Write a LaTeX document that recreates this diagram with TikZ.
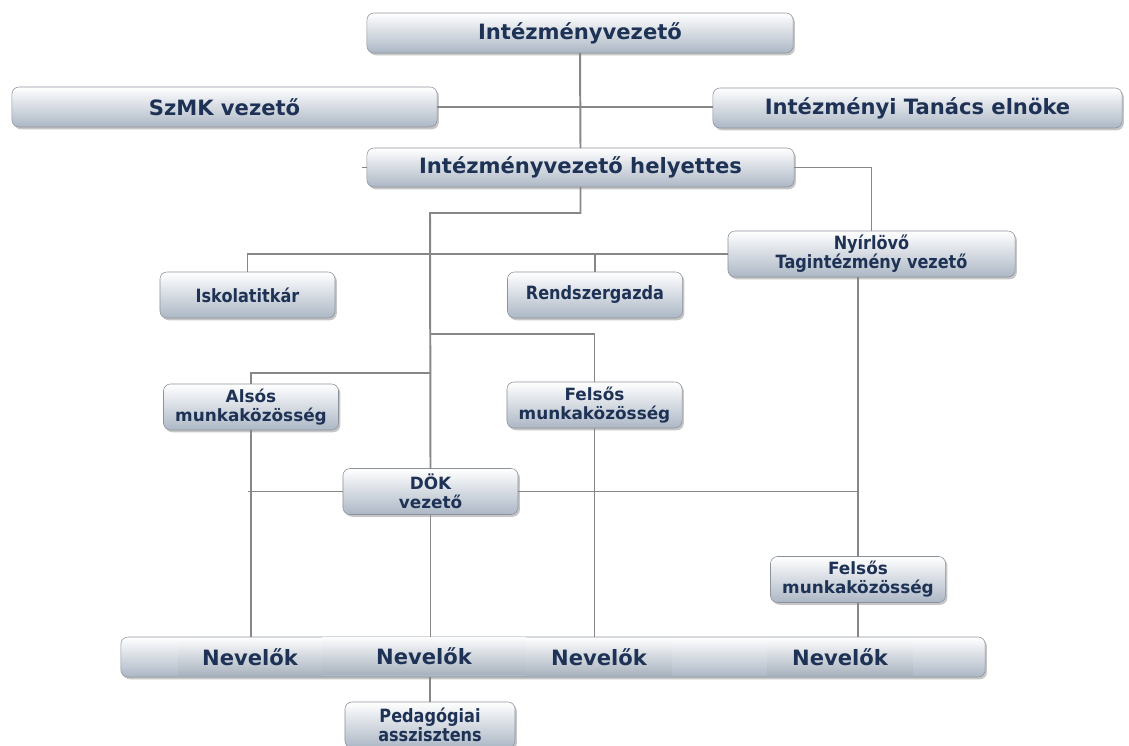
\documentclass[tikz,border=0pt]{standalone}
\usepackage{fontspec}
\setmainfont{DejaVu Sans}
\newfontfamily\narrowsf[FakeStretch=0.88]{DejaVu Sans}
\usetikzlibrary{shadows}
\definecolor{navy}{RGB}{30,50,85}
\definecolor{boxbot}{RGB}{172,183,197}
\definecolor{boxline}{RGB}{140,146,154}
\definecolor{linegray}{RGB}{135,135,135}

\begin{document}
\begin{tikzpicture}[x=0.025cm,y=-0.025cm,
  box/.style={draw=boxline, rounded corners=5pt, top color=white, bottom color=boxbot,
    inner sep=0pt, outer sep=0pt, align=center, text=navy,
    drop shadow={opacity=0.45, shadow xshift=1.3pt, shadow yshift=-1.6pt}},
  bigbox/.style={box, minimum height=1cm, font=\fontsize{15}{18}\selectfont\bfseries},
  smallbox/.style={box, minimum width=4.375cm, minimum height=1.15cm,
    font=\fontsize{12}{13.5}\selectfont\bfseries},
  narrowbox/.style={smallbox, font=\narrowsf\fontsize{13}{13.5}\selectfont\bfseries},
  nevbox/.style={top color=white!96!boxbot, bottom color=boxbot!90!gray,
    inner sep=0pt, minimum height=0.93cm, text=navy, font=\fontsize{15}{18}\selectfont\bfseries},
  wire/.style={draw=linegray, line width=1.4pt}]
\useasboundingbox (0,0) rectangle (1129,745);
\clip (0,0) rectangle (1129,745);

% vezetes
\node[bigbox, minimum width=10.65cm] (chief) at (580,33) {Intézményvezető};
\node[bigbox, minimum width=10.625cm] (szmk) at (224.5,107) {SzMK vezető};
\node[bigbox, minimum width=10.225cm] (council) at (917.5,108) {Intézményi Tanács elnöke};
\node[bigbox, minimum width=10.675cm, minimum height=0.975cm] (deputy) at (580.5,167.5) {Intézményvezető helyettes};
\node[narrowbox, minimum width=7.175cm] (branch) at (871.5,254) {Nyírlövő\\Tagintézmény vezető};
\node[narrowbox] (secretary) at (247.5,295) {Iskolatitkár};
\node[narrowbox] (sysadmin) at (595,295) {Rendszergazda};

% munkakozossegek
\node[smallbox] (lower) at (251,407) {Alsós\\munkaközösség};
\node[smallbox] (upper) at (594.5,405) {Felsős\\munkaközösség};
\node[smallbox] (dok) at (430.5,491.5) {DÖK\\vezető};
\node[smallbox] (upperb) at (858,579.5) {Felsős\\munkaközösség};

% nevelok
\node[box, minimum width=21.6cm, minimum height=1cm] (teachers) at (553,657) {};
\node[nevbox, minimum width=3.575cm] (nev1) at (250,657) {Nevelők};
\node[nevbox, minimum width=5.1cm] (nev2) at (424,656) {Nevelők};
\node[nevbox, minimum width=3.65cm] (nev3) at (599,657) {Nevelők};
\node[nevbox, minimum width=3.625cm] (nev4) at (840,657) {Nevelők};
\node[narrowbox, minimum width=4.25cm] (assistant) at (430,725) {Pedagógiai\\asszisztens};

\coordinate (spine) at (430,213);
\coordinate (fork1) at (430,334);
\coordinate (fork2) at (430,373);
\coordinate (dokleft) at (248,491.5);

\draw[wire] (chief.south) -- (deputy.north);
\draw[wire] (szmk.east) -- (szmk.east -| council.west);
\draw[wire] (deputy.west) -- ++(-5,0);
\draw[wire] (deputy.east) -| (branch.north);
\draw[wire] (deputy.south) |- (spine) -- (dok.north);
\draw[wire] (secretary.north) |- (branch.west);
\draw[wire] (sysadmin.north) -- (sysadmin.north |- branch.west);
\draw[wire] (fork1) -| (upper.north);
\draw[wire] (fork2) -| (lower.north);
\draw[wire] (dokleft) -- (dok.west);
\draw[wire] (dok.east) -- (dok.east -| upperb.north);
\draw[wire] (upperb.north |- branch.south) -- (upperb.north);
\draw[wire] (upperb.south) -- (upperb.south |- teachers.north);
\draw[wire] (lower.south) -- (lower.south |- teachers.north);
\draw[wire] (dok.south) -- (dok.south |- teachers.north);
\draw[wire] (upper.south) -- (upper.south |- teachers.north);
\draw[wire] (assistant.north |- teachers.south) -- (assistant.north);

\end{tikzpicture}
\end{document}
